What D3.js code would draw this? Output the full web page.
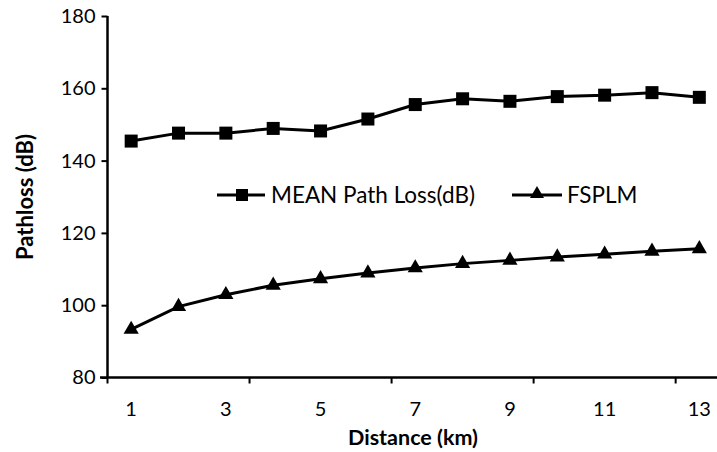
<!DOCTYPE html>
<html><head><meta charset="utf-8">
<script src="https://cdn.jsdelivr.net/npm/d3@7"></script>
<style>body{margin:0;background:#fff}svg{display:block}</style>
</head><body><svg id="c" width="717" height="452"></svg>
<script>
const distances = [1,2,3,4,5,6,7,8,9,10,11,12,13];
const meanPathLoss = [145.4,147.6,147.6,148.9,148.2,151.5,155.5,157.1,156.4,157.7,158.1,158.8,157.5];
const fsplm = [93.3,99.6,102.9,105.5,107.3,108.9,110.3,111.5,112.4,113.3,114.1,114.9,115.6];
const yTicks = [80,100,120,140,160,180];
const xLabels = [1,3,5,7,9,11,13];
const seriesNames = ["MEAN Path Loss(dB)","FSPLM"];

const svg = d3.select("#c");
const font = "Lato, 'Open Sans', sans-serif";
const x = d3.scaleBand().domain(distances).range([107.5, 723]).paddingInner(0).paddingOuter(0);
const cx = d => x(d) + x.bandwidth()/2;
const y = d3.scaleLinear().domain([80,180]).range([377.5,16]);

// y axis
const ya = svg.append("g").attr("transform","translate(107.5,0)")
  .call(d3.axisLeft(y).tickValues(yTicks).tickSize(6).tickPadding(6));
ya.select(".domain").attr("stroke","#000").attr("stroke-width",2.5).attr("d","M0,16V377.5");
ya.selectAll(".tick line").attr("stroke-width",2);
ya.selectAll("text").attr("font-family",font).attr("font-size",20).attr("fill","#000");

// x axis
const xa = svg.append("g").attr("transform","translate(0,377.5)");
xa.append("line").attr("x1",100).attr("x2",723).attr("y1",0).attr("y2",0).attr("stroke","#000").attr("stroke-width",2.5);
const boundaries = [0,3,6,9,12].map(i => x(distances[i]));
xa.selectAll("line.tk").data(boundaries).enter().append("line").attr("class","tk")
  .attr("x1",d=>d).attr("x2",d=>d).attr("y1",0).attr("y2",6).attr("stroke","#000").attr("stroke-width",2);
xa.selectAll("text").data(xLabels).enter().append("text")
  .attr("x",d=>cx(d)).attr("y",38).attr("text-anchor","middle")
  .attr("font-family",font).attr("font-size",20).text(d=>d);

// titles
svg.append("text").attr("x",413).attr("y",445).attr("text-anchor","middle")
  .attr("font-family",font).attr("font-size",21.5).attr("font-weight","bold").text("Distance (km)");
svg.append("text").attr("transform","translate(33,197) rotate(-90)").attr("text-anchor","middle")
  .attr("font-family",font).attr("font-size",22).attr("font-weight","bold").text("Pathloss (dB)");

const line = d3.line().x((d,i)=>cx(distances[i])).y(d=>y(d));
const tri = d3.symbol().type(d3.symbolTriangle);

svg.append("path").attr("d",line(meanPathLoss)).attr("fill","none").attr("stroke","#000").attr("stroke-width",3);
svg.selectAll("rect.m").data(meanPathLoss).enter().append("rect").attr("class","m")
  .attr("x",(d,i)=>cx(distances[i])-6.5).attr("y",d=>y(d)-6.5).attr("width",13).attr("height",13).attr("fill","#000");

svg.append("path").attr("d",line(fsplm)).attr("fill","none").attr("stroke","#000").attr("stroke-width",3);
svg.selectAll("path.t").data(fsplm).enter().append("path").attr("class","t")
  .attr("d",tri.size(100)).attr("transform",(d,i)=>`translate(${cx(distances[i])},${y(d)})`).attr("fill","#000");

// legend
const lg = svg.append("g");
lg.append("line").attr("x1",217).attr("x2",265).attr("y1",195).attr("y2",195).attr("stroke","#000").attr("stroke-width",3);
lg.append("rect").attr("x",236).attr("y",189).attr("width",12).attr("height",12).attr("fill","#000");
lg.append("text").attr("x",271).attr("y",202.5).attr("font-family",font).attr("font-size",22.5).text(seriesNames[0]);
lg.append("line").attr("x1",512).attr("x2",562).attr("y1",195).attr("y2",195).attr("stroke","#000").attr("stroke-width",3);
lg.append("path").attr("d",tri.size(85)).attr("transform","translate(537,194)").attr("fill","#000");
lg.append("text").attr("x",567).attr("y",202.5).attr("font-family",font).attr("font-size",22.5).text(seriesNames[1]);
</script></body></html>
